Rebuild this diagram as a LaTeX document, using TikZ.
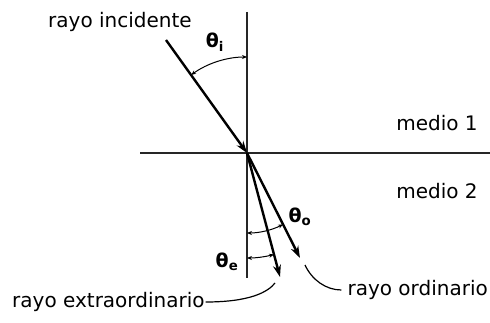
\documentclass[tikz,border=0pt]{standalone}
\usepackage{fontspec}
\setmainfont{DejaVu Sans}
\usepackage{tikz}
\usetikzlibrary{positioning,arrows.meta}

\begin{document}
\begin{tikzpicture}[x=1pt, y=-1pt,
  every node/.style={font=\fontsize{20}{23}\selectfont, inner sep=0pt},
  axis/.style={line width=1.4pt, draw=black!85},
  ray/.style={line width=2.4pt, -{Stealth[length=12pt, width=8pt]}},
  angarc/.style={line width=1pt, {Stealth[length=5pt,width=4pt]}-{Stealth[length=5pt,width=4pt]}},
  leader/.style={line width=1.2pt},
  anglabel/.style={font=\fontsize{19}{22}\selectfont\bfseries}
]
\useasboundingbox (0,0) rectangle (490,323);
% interface and normal
\coordinate (O) at (247,153);
\coordinate (ntop) at (247,12);
\coordinate (nbot) at (247,278);
\coordinate (ileft) at (140,153);
\coordinate (iright) at (490,153);
\draw[axis] (ntop) -- (nbot);
\draw[axis] (ileft) -- (iright);
% rays
\coordinate (inc) at (166,40);
\coordinate (ord) at (300,258);
\coordinate (ext) at (280,277);
\draw[ray] (inc) -- (O);
\draw[ray] (O) -- (ord);
\draw[ray] (O) -- (ext);
% angles
\draw[angarc] (O) ++(-125.6:96) arc[start angle=-125.6, end angle=-90, radius=96];
\draw[angarc] (O) ++(90:80) arc[start angle=90, end angle=63.2, radius=80];
\draw[angarc] (O) ++(90:105) arc[start angle=90, end angle=75.1, radius=105];
\node[anglabel] (thi) at (215,42) {θ\textsubscript{i}};
\node[anglabel] (tho) at (300,217) {θ\textsubscript{o}};
\node[anglabel] (the) at (227,262) {θ\textsubscript{e}};
% labels
\node (incl) at (120,22) {rayo incidente};
\node (med1) at (437,123) {medio 1};
\node (med2) at (437,191) {medio 2};
\node[anchor=west] (extl) at (12,302) {rayo extraordinario};
\node[anchor=east] (ordl) at (488,290) {rayo ordinario};
\coordinate (extp) at (275,283);
\coordinate (ordp) at (305,265);
\draw[leader] ([xshift=1pt]extl.east) .. controls (250,302) and (268,292) .. (extp);
\draw[leader] ([xshift=-6pt]ordl.west) .. controls (326,290) and (312,280) .. (ordp);
\end{tikzpicture}
\end{document}
